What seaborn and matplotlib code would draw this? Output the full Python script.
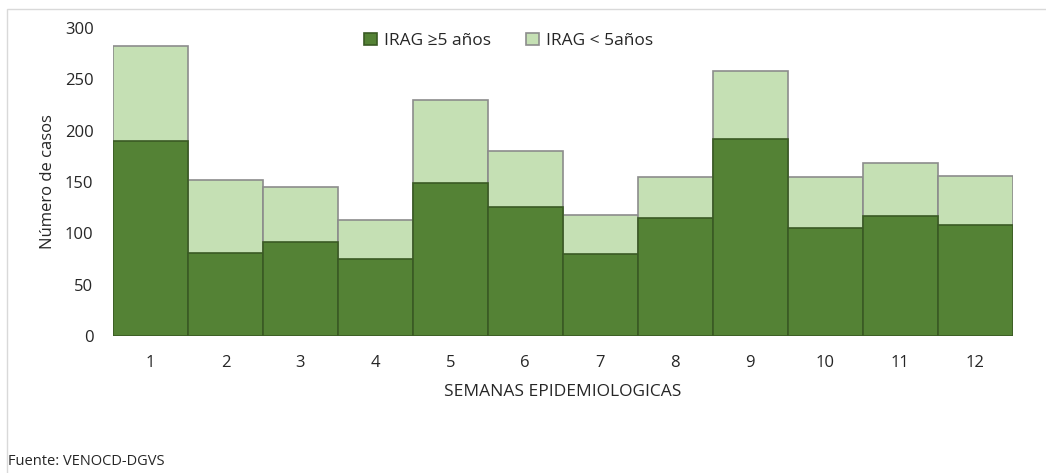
import pandas as pd
import numpy as np
import matplotlib
matplotlib.use("Agg")
import matplotlib.pyplot as plt
import seaborn as sns
from matplotlib.patches import Rectangle

semanas = ["1", "2", "3", "4", "5", "6", "7", "8", "9", "10", "11", "12"]
irag_ge5 = [190, 81, 92, 75, 149, 126, 80, 115, 192, 105, 117, 108]
irag_lt5 = [92, 71, 53, 38, 81, 54, 38, 40, 66, 50, 51, 48]
yticks = [0, 50, 100, 150, 200, 250, 300]

df = pd.DataFrame({"semana": semanas, "ge5": irag_ge5, "lt5": irag_lt5})
df["total"] = df["ge5"] + df["lt5"]

sns.set_style("white")
plt.rcParams["font.family"] = ["Open Sans", "DejaVu Sans"]

fig = plt.figure(figsize=(10.46, 4.73), dpi=100)
ax = fig.add_axes([0.108, 0.2896, 0.86, 0.6515])

dark = "#548235"
light = "#C5E0B4"
txt = "#262626"

# stacked: light bar drawn at full height, dark bar over it
sns.barplot(data=df, x="semana", y="total", color=light, width=1.0, saturation=1,
            edgecolor="#8c8c8c", linewidth=1.2, ax=ax, label="IRAG < 5años")
sns.barplot(data=df, x="semana", y="ge5", color=dark, width=1.0, saturation=1,
            edgecolor="#3a5a24", linewidth=1.2, ax=ax, label="IRAG \u22655 años")

ax.set_ylim(0, 300)
ax.set_xlim(-0.5, len(semanas) - 0.5)
ax.set_yticks(yticks)
ax.tick_params(axis="both", length=0, labelsize=12, colors=txt)
ax.tick_params(axis="x", pad=14)
ax.tick_params(axis="y", pad=14)
sns.despine(ax=ax, left=True, bottom=True)

ax.set_xlabel("SEMANAS EPIDEMIOLOGICAS", fontsize=12.5, color=txt, labelpad=9)
ax.set_ylabel("Número de casos", fontsize=12, color=txt, labelpad=6)

handles, labels = ax.get_legend_handles_labels()
order = [1, 0]
leg = ax.legend([handles[i] for i in order], [labels[i] for i in order],
                loc="upper center", bbox_to_anchor=(0.44, 1.035), ncol=2, frameon=False,
                fontsize=12.5, handlelength=0.75, handleheight=0.75, columnspacing=2.0,
                handletextpad=0.4)
for t in leg.get_texts():
    t.set_color(txt)

fig.text(0.008, 0.017, "Fuente: VENOCD-DGVS", fontsize=10.5, color=txt)

fig.patches.append(Rectangle((0.007, -0.01), 1.1, 0.991, transform=fig.transFigure,
                             fill=False, edgecolor="#d9d9d9", linewidth=1.0))

fig.savefig("out.png", dpi=100)
